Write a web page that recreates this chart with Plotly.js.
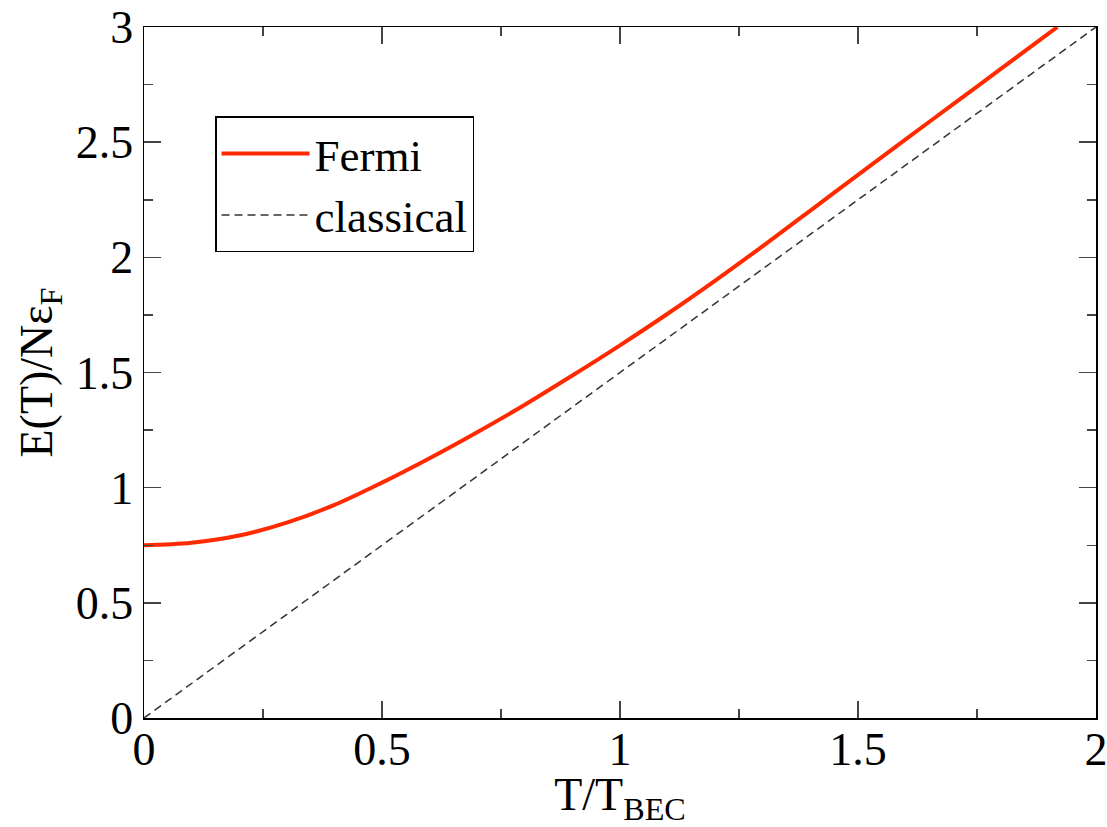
<!DOCTYPE html>
<html>
<head>
<meta charset="utf-8">
<script src="https://cdn.plot.ly/plotly-3.0.1.min.js"></script>
<style>html,body{margin:0;padding:0;background:#fff;}#chart{width:1107px;height:827px;}</style>
</head>
<body>
<div id="chart"></div>
<script>
// T/T_BEC values and E(T)/N eps_F for the Fermi gas
const fermiT = [0, 0.1, 0.2, 0.3, 0.4, 0.5, 0.6, 0.7, 0.8, 0.9, 1.0, 1.1, 1.2, 1.3, 1.4, 1.5, 1.6, 1.7, 1.8, 1.9, 1.919];
const fermiE = [0.750, 0.761, 0.792, 0.848, 0.925, 1.022, 1.128, 1.241, 1.360, 1.487, 1.618, 1.755, 1.899, 2.049, 2.203, 2.358, 2.512, 2.665, 2.818, 2.971, 3.0];
// Classical line
const classT = [0, 2];
const classE = [0, 3];
const xTickVals = [0, 0.5, 1, 1.5, 2];
const xTickText = ["0", "0.5", "1", "1.5", "2"];
const yTickVals = [0, 0.5, 1, 1.5, 2, 2.5, 3];
const yTickText = ["0", "0.5", "1", "1.5", "2", "2.5", "3"];

const serif = "Liberation Serif";

const traces = [
  {x: fermiT, y: fermiE, mode: "lines", name: "Fermi",
   line: {color: "#ff2a00", width: 4, shape: "spline", smoothing: 1}},
  {x: classT, y: classE, mode: "lines", name: "classical",
   line: {color: "#333333", width: 1.5, dash: "8px,5px"}}
];

const axisCommon = {
  showline: true, linecolor: "#000", linewidth: 1.5, mirror: "ticks",
  ticks: "inside", ticklen: 17, tickwidth: 1.5, tickcolor: "#444",
  showgrid: false, zeroline: false,
  tickfont: {family: serif, size: 46, color: "#000"},
  tickmode: "array", ticklabeloverflow: "allow"
};

const layout = {
  width: 1107, height: 827,
  margin: {l: 144, r: 11, t: 27, b: 109},
  paper_bgcolor: "#fff", plot_bgcolor: "#fff",
  showlegend: true,
  xaxis: Object.assign({}, axisCommon, {
    range: [0, 2], tickvals: xTickVals, ticktext: xTickText,
    ticklabelposition: "outside", ticklabelstandoff: -10,
    minor: {dtick: 0.25, ticks: "inside", ticklen: 9, tickwidth: 1.5, tickcolor: "#444", showgrid: false},
    title: {text: "T/T<sub>BEC</sub>", font: {family: serif, size: 46, color: "#000"}, standoff: 6}
  }),
  yaxis: Object.assign({}, axisCommon, {
    range: [0, 3], tickvals: yTickVals, ticktext: yTickText,
    minor: {dtick: 0.25, ticks: "inside", ticklen: 9, tickwidth: 1.5, tickcolor: "#444", showgrid: false},
    title: {text: "E(T)/Nε<sub>F</sub>", font: {family: serif, size: 46, color: "#000"}, standoff: 8}
  }),
  legend: {
    x: 0.0746, y: 0.871, xanchor: "left", yanchor: "top",
    bgcolor: "#fff", bordercolor: "#000", borderwidth: 1.5,
    font: {family: serif, size: 45, color: "#000"},
    itemwidth: 88
  }
};

Plotly.newPlot("chart", traces, layout, {displayModeBar: false, staticPlot: true});
</script>
</body>
</html>
